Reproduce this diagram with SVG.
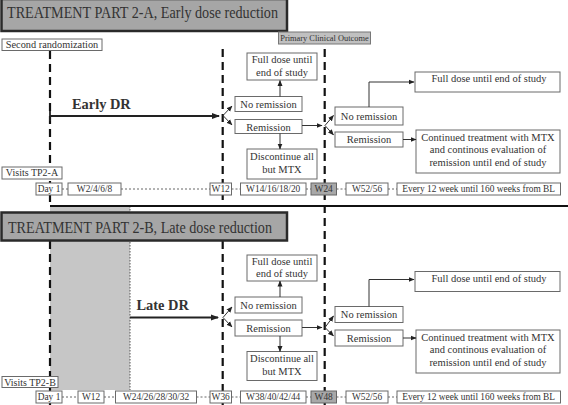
<svg xmlns="http://www.w3.org/2000/svg" width="568" height="405" viewBox="0 0 568 405">
<style>
text{font-family:"Liberation Serif","DejaVu Serif",serif;fill:#333}
.bx{fill:#fff;stroke:#6a6a6a;stroke-width:1}
.t{font-size:10.5px;text-anchor:middle}
.v{font-size:9.4px;text-anchor:middle}
.ban{fill:#a6a6a6;stroke:#2a2a2a;stroke-width:2.5}
.bt{font-size:16px}
.dash{stroke:#111;stroke-width:2.2;stroke-dasharray:8 5;fill:none}
.dot{stroke:#666;stroke-width:1;stroke-dasharray:2 2;fill:none}
.ar{stroke:#333;stroke-width:1;fill:none;marker-end:url(#ah)}
.dr{stroke:#222;stroke-width:1.8;fill:none;marker-end:url(#ahb)}
.gv{fill:#a8a8a8;stroke:#666;stroke-width:1}
</style>
<defs>
<marker id="ah" markerUnits="userSpaceOnUse" markerWidth="6" markerHeight="6" refX="5.5" refY="3" orient="auto"><path d="M0,0.5 L6,3 L0,5.5 z" fill="#222"/></marker>
<marker id="ahb" markerUnits="userSpaceOnUse" markerWidth="8" markerHeight="7" refX="7" refY="3.5" orient="auto"><path d="M0,0.5 L8,3.5 L0,6.5 z" fill="#222"/></marker>
</defs>
<rect width="568" height="405" fill="#fff"/>

<g id="shade">
<rect x="50" y="206" width="80" height="184" fill="#c6c6c6"/>
<line x1="130" y1="206" x2="130" y2="390" stroke="#555" stroke-width="1" stroke-dasharray="1.5 1.5"/>
</g>

<g id="timelines">
<line class="dash" x1="50" y1="51" x2="50" y2="206"/>
<line class="dash" x1="222.7" y1="49" x2="222.7" y2="206"/>
<line class="dash" x1="324.7" y1="49" x2="324.7" y2="405"/>
<line class="dash" x1="50" y1="241" x2="50" y2="405"/>
<line class="dash" x1="222.7" y1="241" x2="222.7" y2="405"/>
<line x1="50" y1="206" x2="568" y2="206" stroke="#111" stroke-width="2"/>
</g>

<g id="bannerA">
<rect class="ban" x="1.5" y="-1" width="285.5" height="32"/>
<text class="bt" x="7" y="18" textLength="271" lengthAdjust="spacingAndGlyphs">TREATMENT PART 2-A, Early dose reduction</text>
</g>
<g id="bannerB">
<rect class="ban" x="1.5" y="212.5" width="285.5" height="28"/>
<text class="bt" x="8" y="232.5" textLength="264" lengthAdjust="spacingAndGlyphs">TREATMENT PART 2-B, Late dose reduction</text>
</g>

<g id="secondRand">
<rect class="bx" x="2" y="39" width="100" height="11.5"/>
<text x="52" y="47.8" style="font-size:10.3px;text-anchor:middle">Second randomization</text>
</g>
<g id="primary">
<rect x="278.5" y="32" width="92" height="12" fill="#c0c0c0" stroke="#777" stroke-width="1"/>
<text x="324.5" y="41" style="font-size:8.4px;text-anchor:middle">Primary Clinical Outcome</text>
</g>

<g id="earlyDR">
<text x="72" y="109" style="font-size:14.4px;font-weight:bold">Early DR</text>
</g>
<g id="lateDR">
<text x="136.5" y="310" style="font-size:14.4px;font-weight:bold">Late DR</text>
</g>

<!-- Part A nodes -->
<g id="A_full1"><rect class="bx" x="247" y="53" width="70" height="27"/><text class="t" x="282" y="63">Full dose until</text><text class="t" x="282" y="75.5">end of  study</text></g>
<g id="A_norem1"><rect class="bx" x="235" y="96.5" width="67" height="15"/><text class="t" x="268.5" y="107.5">No remission</text></g>
<g id="A_rem1"><rect class="bx" x="235" y="119.5" width="67" height="14"/><text class="t" x="268.5" y="130.5">Remission</text></g>
<g id="A_disc"><rect class="bx" x="247" y="149" width="70" height="30"/><text class="t" x="282" y="160">Discontinue all</text><text class="t" x="282" y="172.5">but MTX</text></g>
<g id="A_norem2"><rect class="bx" x="335" y="107" width="68" height="18"/><text class="t" x="369" y="119.5">No remission</text></g>
<g id="A_rem2"><rect class="bx" x="335" y="132" width="68" height="15"/><text class="t" x="369" y="143">Remission</text></g>
<g id="A_full2"><rect class="bx" x="415" y="72" width="145" height="20"/><text class="t" x="489" y="82">Full dose until end of  study</text></g>
<g id="A_cont"><rect class="bx" x="416" y="130" width="144" height="43"/><text class="t" x="488" y="141">Continued treatment with MTX</text><text class="t" x="488" y="153">and continous evaluation of</text><text class="t" x="488" y="165.5">remission until end of  study</text></g>

<!-- Part B nodes -->
<g id="B_full1"><rect class="bx" x="247" y="255" width="70" height="26"/><text class="t" x="282" y="265">Full dose until</text><text class="t" x="282" y="277">end of  study</text></g>
<g id="B_norem1"><rect class="bx" x="235" y="297" width="67" height="16"/><text class="t" x="268.5" y="308.5">No remission</text></g>
<g id="B_rem1"><rect class="bx" x="235" y="320" width="67" height="16"/><text class="t" x="268.5" y="331.5">Remission</text></g>
<g id="B_disc"><rect class="bx" x="247" y="351.5" width="70" height="29"/><text class="t" x="282" y="362">Discontinue all</text><text class="t" x="282" y="374.5">but MTX</text></g>
<g id="B_norem2"><rect class="bx" x="335" y="306.5" width="68" height="16"/><text class="t" x="369" y="318">No remission</text></g>
<g id="B_rem2"><rect class="bx" x="335" y="330" width="68" height="16"/><text class="t" x="369" y="341.5">Remission</text></g>
<g id="B_full2"><rect class="bx" x="415" y="271.5" width="145" height="20"/><text class="t" x="489" y="281.5">Full dose until end of  study</text></g>
<g id="B_cont"><rect class="bx" x="416" y="330" width="144" height="43"/><text class="t" x="488" y="341">Continued treatment with MTX</text><text class="t" x="488" y="353">and continous evaluation of</text><text class="t" x="488" y="365.5">remission until end of  study</text></g>

<g id="connectors">
<line x1="50" y1="111" x2="50" y2="121" stroke="#222" stroke-width="1.8"/>
<line class="dr" x1="50" y1="116" x2="219" y2="116"/>
<line class="dr" x1="130" y1="317.5" x2="218" y2="317.5"/>
<!-- A -->
<line class="ar" x1="223" y1="115.5" x2="232" y2="106"/>
<line class="ar" x1="223" y1="115.5" x2="232" y2="125"/>
<line class="ar" x1="280" y1="96.5" x2="280" y2="80.5"/>
<line class="ar" x1="280" y1="133.5" x2="280" y2="149"/>
<line class="ar" x1="302" y1="125.5" x2="322" y2="125.5"/>
<line class="ar" x1="325" y1="125.5" x2="333.5" y2="115.5"/>
<line class="ar" x1="325" y1="125.5" x2="333.5" y2="135"/>
<path class="ar" d="M369,107 V82 H414"/>
<line class="ar" x1="403" y1="139.5" x2="416" y2="139.5"/>
<!-- B -->
<line class="ar" x1="223" y1="317.5" x2="232" y2="307"/>
<line class="ar" x1="223" y1="317.5" x2="232" y2="327"/>
<line class="ar" x1="280" y1="297" x2="280" y2="281"/>
<line class="ar" x1="280" y1="336" x2="280" y2="351.5"/>
<line class="ar" x1="302" y1="327.5" x2="322" y2="327.5"/>
<line class="ar" x1="325" y1="327.5" x2="333.5" y2="316"/>
<line class="ar" x1="325" y1="327.5" x2="333.5" y2="336"/>
<path class="ar" d="M369,306.5 V279.5 H414"/>
<line class="ar" x1="403" y1="338" x2="416" y2="338"/>
<!-- visit row dotted links -->
<path class="dot" d="M62,189 H68 M121,189 H210 M231.5,189 H240.5 M306,189 H311 M336.5,189 H346 M388,189 H397"/>
<path class="dot" d="M62,397 H78 M104,397 H115.5 M196.5,397 H210 M231.5,397 H240.5 M306,397 H311 M336.5,397 H346 M388,397 H397"/>
</g>

<g id="visitsA">
<rect class="bx" x="2" y="167" width="60" height="12"/><text x="32" y="176.3" style="font-size:10px;text-anchor:middle">Visits TP2-A</text>
<rect class="bx" x="36" y="183" width="26" height="12"/><text class="v" x="49" y="192.3">Day 1</text>
<rect class="bx" x="68" y="183" width="53" height="12"/><text class="v" x="94.5" y="192.3">W2/4/6/8</text>
<rect class="bx" x="210" y="183" width="21.5" height="12"/><text class="v" x="220.7" y="192.3">W12</text>
<rect class="bx" x="240.5" y="183" width="65.5" height="12"/><text class="v" x="273.2" y="192.3">W14/16/18/20</text>
<rect class="gv" x="311" y="183" width="25.5" height="12"/><text class="v" x="323.7" y="192.3">W24</text>
<rect class="bx" x="346" y="183" width="42" height="12"/><text class="v" x="367" y="192.3">W52/56</text>
<rect class="bx" x="397" y="183" width="163.5" height="12"/><text class="v" x="478.7" y="192.3">Every 12 week until 160 weeks from BL</text>
</g>
<g id="visitsB">
<rect class="bx" x="2" y="376.5" width="56" height="11"/><text x="30" y="385.5" style="font-size:10px;text-anchor:middle">Visits TP2-B</text>
<rect class="bx" x="36" y="391" width="26" height="12"/><text class="v" x="49" y="400.3">Day 1</text>
<rect class="bx" x="78" y="391" width="26" height="12"/><text class="v" x="91" y="400.3">W12</text>
<rect class="bx" x="115.5" y="391" width="81" height="12"/><text class="v" x="156" y="400.3">W24/26/28/30/32</text>
<rect class="bx" x="210" y="391" width="21.5" height="12"/><text class="v" x="220.7" y="400.3">W36</text>
<rect class="bx" x="240.5" y="391" width="65.5" height="12"/><text class="v" x="273.2" y="400.3">W38/40/42/44</text>
<rect class="gv" x="311" y="391" width="25.5" height="12"/><text class="v" x="323.7" y="400.3">W48</text>
<rect class="bx" x="346" y="391" width="42" height="12"/><text class="v" x="367" y="400.3">W52/56</text>
<rect class="bx" x="397" y="391" width="163.5" height="12"/><text class="v" x="478.7" y="400.3">Every 12 week until 160 weeks from BL</text>
</g>
</svg>
